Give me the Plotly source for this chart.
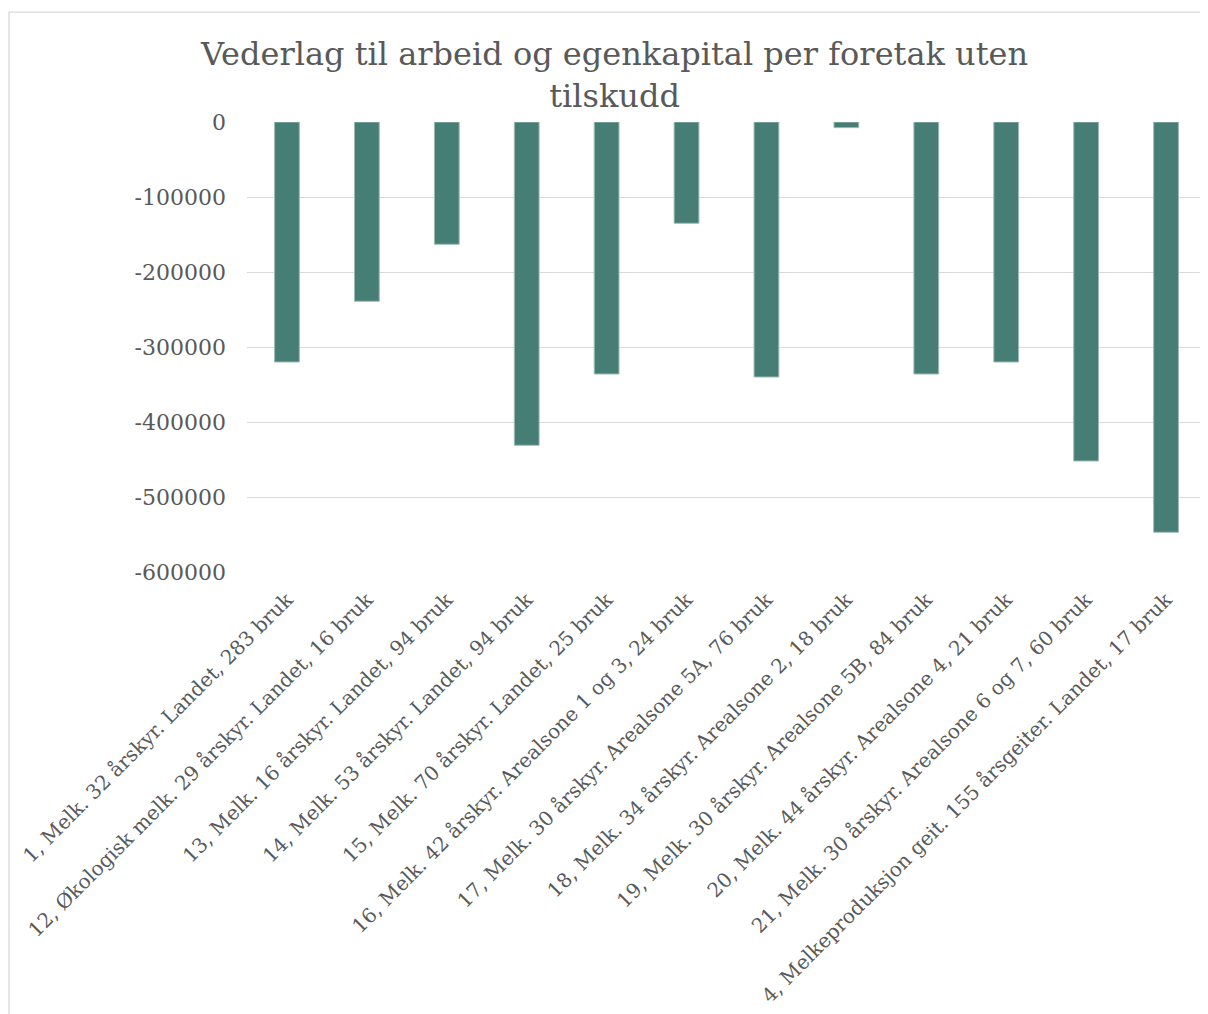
import plotly.graph_objects as go

categories = [
    "1, Melk. 32 årskyr. Landet, 283 bruk",
    "12, Økologisk melk. 29 årskyr. Landet, 16 bruk",
    "13, Melk. 16 årskyr. Landet, 94 bruk",
    "14, Melk. 53 årskyr. Landet, 94 bruk",
    "15, Melk. 70 årskyr. Landet, 25 bruk",
    "16, Melk. 42 årskyr. Arealsone 1 og 3, 24 bruk",
    "17, Melk. 30 årskyr. Arealsone 5A, 76 bruk",
    "18, Melk. 34 årskyr. Arealsone 2, 18 bruk",
    "19, Melk. 30 årskyr. Arealsone 5B, 84 bruk",
    "20, Melk. 44 årskyr. Arealsone 4, 21 bruk",
    "21, Melk. 30 årskyr. Arealsone 6 og 7, 60 bruk",
    "4, Melkeproduksjon geit. 155 årsgeiter. Landet, 17 bruk",
]
values = [-320000, -239000, -163000, -431000, -336000, -135000,
          -340000, -7500, -336000, -320000, -452000, -547000]
y_ticks = [0, -100000, -200000, -300000, -400000, -500000, -600000]
title_text = "Vederlag til arbeid og egenkapital per foretak uten<br>tilskudd"

FONT = "DejaVu Serif"
GREY = "#595959"

fig = go.Figure(go.Bar(
    x=categories, y=values,
    marker=dict(color="#467D74", line=dict(color="#9DBBB5", width=1)),
))

# page body has an 8px margin; figure sized to fit the viewport
W, H = 1200, 1006
L, R, T, B = 239, 2, 113.5, 442
pw, ph = W - L - R, H - T - B

bx0 = (1 - L) / pw
bx1 = (W + 20 - L) / pw
by0 = (H - B - (H + 20)) / ph
by1 = (H - B - 3.5) / ph

fig.update_layout(
    width=W, height=H,
    margin=dict(l=L, r=R, t=T, b=B, autoexpand=False),
    paper_bgcolor="white", plot_bgcolor="white",
    bargap=0.69,
    showlegend=False,
    title=dict(text=title_text, x=606.5/W, xref="container", xanchor="center",
               y=1 - 57/H, yref="container", yanchor="top",
               font=dict(family=FONT, size=32, color=GREY), automargin=False),
    xaxis=dict(tickangle=-45, tickfont=dict(family=FONT, size=20, color=GREY),
               showgrid=False, zeroline=False, showline=False, ticks="",
               ticklabelstandoff=11, automargin=False),
    yaxis=dict(range=[-600000, 0], tickvals=y_ticks, ticktext=[str(v) for v in y_ticks],
               tickfont=dict(family=FONT, size=22, color=GREY),
               showgrid=True, gridcolor="#D9D9D9", gridwidth=1,
               zeroline=False, showline=False, ticks="",
               ticklabelstandoff=20, automargin=False),
    shapes=[dict(type="path", xref="paper", yref="paper",
                 path=f"M {bx0},{by0} L {bx0},{by1} L {bx1},{by1}",
                 line=dict(color="#D9D9D9", width=1.3),
                 layer="below")],
)

fig.write_html("out.html")
